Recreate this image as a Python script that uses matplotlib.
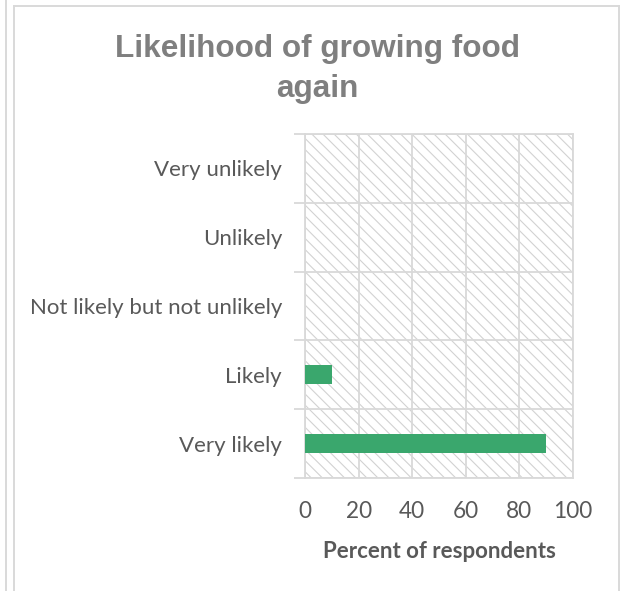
import matplotlib
matplotlib.use("Agg")
import matplotlib.pyplot as plt
from matplotlib.patches import Rectangle
from matplotlib.lines import Line2D
import numpy as np

# Data (bottom to top)
categories = ["Very likely", "Likely", "Not likely but not unlikely", "Unlikely", "Very unlikely"]
percent = [90, 10, 0, 0, 0]
x_ticks = [0, 20, 40, 60, 80, 100]

title_lines = ["Likelihood of growing food", "again"]
x_label = "Percent of respondents"

W, H = 621, 591
DPI = 100
plt.rcParams["hatch.linewidth"] = 0.8

fig = plt.figure(figsize=(W / DPI, H / DPI), dpi=DPI)
fig.patch.set_facecolor("white")

# plot area in pixels
left_px, right_px, top_px, bottom_px = 305, 573, 134, 478
ax = fig.add_axes([left_px / W, 1 - bottom_px / H,
                   (right_px - left_px) / W, (bottom_px - top_px) / H])

grid_c = "#D9D9D9"
text_c = "#595959"
label_font = "Lato"
label_size = 16

y = np.arange(len(categories))
ax.barh(y, percent, height=0.28, color="#3AA76D", zorder=3)

ax.set_xlim(0, 100)
ax.set_ylim(-0.5, len(categories) - 0.5)

# patterned plot-area background
bg = Rectangle((0, 0), 1, 1, transform=ax.transAxes, facecolor="white",
               edgecolor="#D2D2D2", hatch="\\\\\\", linewidth=0, zorder=0.2)
ax.add_patch(bg)
ax.set_facecolor("white")

# gridlines at category boundaries and x ticks
ax.set_xticks(x_ticks)
ax.set_xticklabels([str(v) for v in x_ticks], fontsize=label_size + 0.3,
                   color=text_c, family=label_font)
ax.set_yticks(np.arange(-0.5, len(categories), 1.0))
ax.set_yticklabels([])
ax.set_yticks(y, minor=True)
ax.set_yticklabels(categories, minor=True, fontsize=label_size, color=text_c,
                   family=label_font)
ax.tick_params(axis="y", which="major", length=8, width=1.3, color=grid_c,
               direction="out")
ax.tick_params(axis="y", which="minor", length=0, pad=16.5)
ax.tick_params(axis="x", which="major", length=0, pad=16.5)
ax.grid(True, which="major", color=grid_c, linewidth=1.3, zorder=0.5)
ax.set_axisbelow(True)
for s in ax.spines.values():
    s.set_color(grid_c)
    s.set_linewidth(1.3)

ax.set_xlabel(x_label, fontsize=label_size, fontweight="bold", color=text_c,
              family=label_font, labelpad=14)

# title
title_c = "#7F7F7F"
for line, base_px in zip(title_lines, [57, 97]):
    fig.text(317 / W, 1 - base_px / H, line, ha="center", va="baseline",
             fontsize=22.7, fontweight="bold", color=title_c,
             family="Liberation Sans")

# chart frame lines
frame_c = "#D9D9D9"
def fline(x0, y0, x1, y1):
    fig.add_artist(Line2D([x0 / W, x1 / W], [1 - y0 / H, 1 - y1 / H],
                          transform=fig.transFigure, color=frame_c, lw=1.4))
fline(5.8, 0, 5.8, H)
fline(14.3, 5.8, 14.3, H)
fline(14.3, 5.8, 619.2, 5.8)
fline(619.2, 5.8, 619.2, H)

fig.savefig("out.png", dpi=DPI, facecolor="white")
